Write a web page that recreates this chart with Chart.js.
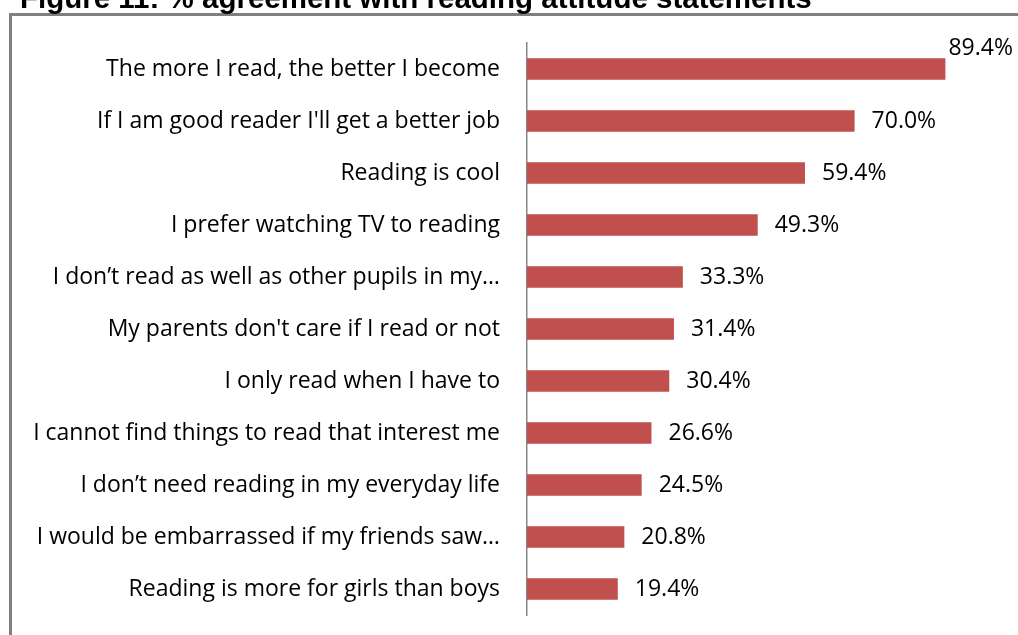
<!DOCTYPE html>
<html>
<head>
<meta charset="utf-8">
<script src="https://cdn.jsdelivr.net/npm/chart.js@4"></script>
<style>
  html, body { margin: 0; padding: 0; background: #fff; overflow: hidden; }
  canvas { display: block; }
</style>
</head>
<body>
<canvas id="attitudes" width="1018" height="635"></canvas>
<script>
var ctx = document.getElementById("attitudes").getContext("2d");

let statements = [
  "The more I read, the better I become",
  "If I am good reader I'll get a better job",
  "Reading is cool",
  "I prefer watching TV to reading",
  "I don’t read as well as other pupils in my…",
  "My parents don't care if I read or not",
  "I only read when I have to",
  "I cannot find things to read that interest me",
  "I don’t need reading in my everyday life",
  "I would be embarrassed if my friends saw…",
  "Reading is more for girls than boys",
];
let agreement = [89.4, 70.0, 59.4, 49.3, 33.3, 31.4, 30.4, 26.6, 24.5, 20.8, 19.4];
let title = "Figure 11: % agreement with reading attitude statements";

const labelFont = '23px "Open Sans"';

// frame and the cut-off figure caption
const framePlugin = {
  id: "frame",
  beforeDraw: (chart) => {
    let c = chart.ctx;
    c.save();
    c.strokeStyle = "#808080";
    c.lineWidth = 3;
    c.strokeRect(10.5, 14.5, 1100, 700);
    c.fillStyle = "#000";
    c.font = 'bold 29.5px "Liberation Sans"';
    c.textBaseline = "alphabetic";
    c.fillText(title, 20, 8);
    c.restore();
  },
};

// percent labels after each bar
const valuePlugin = {
  id: "values",
  afterDatasetsDraw: (chart) => {
    let c = chart.ctx;
    let meta = chart.getDatasetMeta(0);
    c.save();
    c.font = labelFont;
    c.fillStyle = "#000";
    c.textBaseline = "middle";
    meta.data.forEach((bar, i) => {
      let txt = agreement[i].toFixed(1) + "%";
      let w = c.measureText(txt).width;
      let x = bar.x + 17;
      let y = bar.y;
      if (x + w > chart.width - 2) {
        x = bar.x + 3;
        y = bar.y - bar.height / 2 - 10;
      }
      c.fillText(txt, x, y);
    });
    c.restore();
  },
};

var chart = new Chart(ctx, {
  type: "bar",
  data: {
    labels: statements,
    datasets: [
      {
        data: agreement,
        backgroundColor: "#C0504D",
        borderWidth: 0,
        barPercentage: 0.41,
        categoryPercentage: 1,
      },
    ],
  },
  options: {
    indexAxis: "y",
    responsive: false,
    animation: false,
    layout: { padding: { top: 43, bottom: 20, left: 10, right: 23 } },
    plugins: {
      legend: { display: false },
      tooltip: { enabled: false },
    },
    scales: {
      x: { display: false, min: 0, max: 100 },
      y: {
        afterFit: (scale) => {
          scale.width = 517;
          scale.paddingTop = 0;
          scale.paddingBottom = 0;
        },
        grid: { display: true, drawOnChartArea: false, drawTicks: false },
        border: { display: true, color: "#868686", width: 1.5 },
        ticks: { color: "#000", padding: 27, font: { family: "Open Sans", size: 23 } },
      },
    },
  },
  plugins: [framePlugin, valuePlugin],
});
</script>
</body>
</html>
